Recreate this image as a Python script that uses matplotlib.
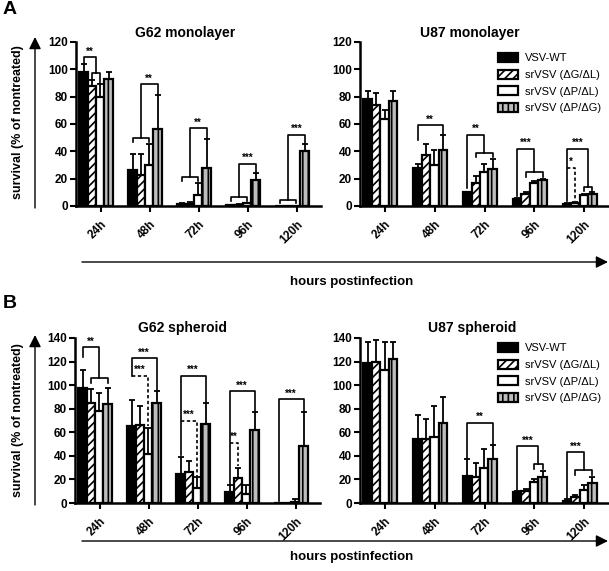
import numpy as np
import matplotlib.pyplot as plt
from matplotlib.patches import FancyArrowPatch

plt.rcParams['font.family'] = ['Liberation Sans', 'DejaVu Sans']
plt.rcParams['hatch.linewidth'] = 1.2

W, H = 609, 571

hours = ['24h', '48h', '72h', '96h', '120h']
viruses = ['VSV-WT', 'srVSV (ΔG/ΔL)', 'srVSV (ΔP/ΔL)', 'srVSV (ΔP/ΔG)']

# rows = viruses, columns = hours
g62_mono_mean = [[98, 26, 1.5, 0.5, 0],
                 [88, 23, 1.5, 1, 0],
                 [80, 30, 8, 2, 0],
                 [93, 56, 28, 19, 40]]
g62_mono_sd = [[6, 12, 0.5, 0, 0],
               [4, 15, 1.5, 0.3, 0],
               [9, 15.5, 9, 0.5, 0],
               [5, 25, 21, 5.5, 5]]

u87_mono_mean = [[78, 28, 10, 5, 1.5],
                 [74, 37, 17, 9, 2.5],
                 [64, 30, 25, 17, 8],
                 [77, 41, 27, 19, 9]]
u87_mono_sd = [[6, 3, 0.5, 0.5, 0.5],
               [9, 8, 5, 1, 0.5],
               [6, 11, 6, 1, 1],
               [7, 11, 7.5, 1, 1]]

g62_sph_mean = [[98, 65, 25, 9, 0],
                [85, 66, 26, 21, 0],
                [78, 42, 13, 8, 1],
                [84, 85, 67, 62, 48]]
g62_sph_sd = [[15, 22, 14, 6, 0],
              [12, 16, 10, 9, 0],
              [15, 22, 9, 7, 2],
              [14, 10, 18, 15, 29]]

u87_sph_mean = [[119, 54, 23, 9, 2],
                [120, 54, 22, 10, 5],
                [113, 56, 30, 18, 11],
                [122, 68, 37, 22, 17]]
u87_sph_sd = [[18, 21, 14, 1, 1],
              [18, 17, 12, 2, 2],
              [24, 26, 16, 2, 4],
              [15, 22, 12, 5, 5]]

# significance brackets: (group, bar from, bar to, top, left end, right end, label, dashed)
g62_mono_sig = [(0, 1, 2, 97, 93, 90, '', False), (0, 0, 1.5, 109, 105, 97, '**', False),
                (1, 0, 2, 50, 47, 47, '', False), (1, 1, 3, 89, 50, 82, '**', False),
                (2, 0, 2, 21, 18, 18, '', False), (2, 1, 3, 57, 21, 50, '**', False),
                (3, 0, 2, 6.5, 4, 4, '', False), (3, 1, 3, 31, 6.5, 25, '***', False),
                (4, 0, 2, 4.5, 2, 2, '', False), (4, 1, 3, 52, 4.5, 46, '***', False)]
u87_mono_sig = [(1, 0, 3, 59, 48, 53, '**', False),
                (2, 1, 3, 39, 36, 36, '', False), (2, 0, 2, 52, 13, 39, '**', False),
                (3, 1, 3, 25, 21, 21, '', False), (3, 0, 2, 42, 7, 25, '***', False),
                (4, 2, 3, 14, 11, 11, '', False), (4, 0, 2.5, 42, 4, 14, '***', False),
                (4, 0, 1, 28, 28, 4, '*', True)]
g62_sph_sig = [(0, 1, 3, 106, 102, 102, '', False), (0, 0, 2, 132, 124, 106, '**', False),
               (1, 0, 3, 123, 108, 96, '***', False), (1, 0, 2, 108, 108, 65, '***', True),
               (2, 0, 3, 108, 41, 86, '***', False), (2, 0, 2, 70, 70, 23, '***', True),
               (3, 0, 3, 95, 16, 78, '***', False), (3, 0, 1, 51, 51, 31, '**', True),
               (4, 0, 3, 88, 2, 78, '***', False)]
u87_sph_sig = [(2, 0, 3, 68, 38, 50, '**', False),
               (3, 2, 3, 33, 29, 29, '', False), (3, 0, 2.5, 48, 11, 33, '***', False),
               (4, 1, 3, 28, 24, 24, '', False), (4, 0, 2, 43, 4, 28, '***', False)]

bar_w = 0.17
shift = -0.09
bar_styles = [dict(facecolor='black'),
              dict(facecolor='white', hatch='////'),
              dict(facecolor='white'),
              dict(facecolor='#bdbdbd', hatch='|||')]

fig = plt.figure(figsize=(W / 100, H / 100), dpi=100)


def fx(x):
    return x / W


def fy(y):
    return 1 - y / H


def draw_panel(left, right, top, bottom, mean, sd, ymax, title, title_xy, sig, legend_xy=None):
    ax = fig.add_axes([fx(left), fy(bottom), (right - left) / W, (bottom - top) / H])
    x = np.arange(len(hours))
    for i, name in enumerate(viruses):
        xs = x + shift + (i - 1.5) * bar_w
        ax.bar(xs, mean[i], bar_w, label=name, edgecolor='black', linewidth=1.6,
               zorder=2, **bar_styles[i])
        ax.errorbar(xs, mean[i], yerr=[np.zeros(len(hours)), sd[i]], fmt='none',
                    ecolor='black', elinewidth=1.3, capsize=2, capthick=1.3, zorder=3)

    for g, b1, b2, y, y1, y2, txt, dashed in sig:
        xa = g + shift + (b1 - 1.5) * bar_w
        xb = g + shift + (b2 - 1.5) * bar_w
        ls = (0, (2, 1.5)) if dashed else '-'
        ax.plot([xa, xa, xb, xb], [y1, y, y, y2], color='black', lw=1.2, ls=ls,
                clip_on=False, zorder=4)
        if txt:
            ax.text((xa + xb) / 2, y + ymax * 0.004, txt, ha='center', va='bottom',
                    fontsize=7, fontweight='bold')

    ax.set_xlim(-0.5, len(hours) - 0.5)
    ax.set_ylim(0, ymax)
    ax.set_yticks(np.arange(0, ymax + 1, 20))
    ax.set_xticks(x)
    ax.set_xticklabels(hours, rotation=45, ha='right', rotation_mode='anchor')
    for lab in ax.get_xticklabels() + ax.get_yticklabels():
        lab.set_fontweight('bold')
        lab.set_fontsize(8.5)
    ax.tick_params(width=1.5, length=4, pad=2)
    ax.tick_params(axis='x', pad=5)
    for s in ['top', 'right']:
        ax.spines[s].set_visible(False)
    for s in ['left', 'bottom']:
        ax.spines[s].set_linewidth(1.8)
    fig.text(fx(title_xy[0]), fy(title_xy[1]), title, ha='center', va='center',
             fontsize=10, fontweight='bold')
    if legend_xy is not None:
        ax.legend(loc='upper left', bbox_to_anchor=(fx(legend_xy[0]), fy(legend_xy[1])),
                  bbox_transform=fig.transFigure, frameon=False, fontsize=8,
                  handlelength=1.8, handleheight=0.9, handletextpad=0.6,
                  labelspacing=0.55, borderpad=0, borderaxespad=0)
    return ax


draw_panel(76, 321, 42, 206, g62_mono_mean, g62_mono_sd, 120, 'G62 monolayer', (185, 33), g62_mono_sig)
draw_panel(360, 609, 42, 206, u87_mono_mean, u87_mono_sd, 120, 'U87 monolayer', (470, 33), u87_mono_sig,
           legend_xy=(498, 53))
draw_panel(75, 320, 338, 503, g62_sph_mean, g62_sph_sd, 140, 'G62 spheroid', (183, 328), g62_sph_sig)
draw_panel(360, 609, 338, 503, u87_sph_mean, u87_sph_sd, 140, 'U87 spheroid', (472, 328), u87_sph_sig,
           legend_xy=(498, 343))


def arrow(x0, y0, x1, y1):
    fig.add_artist(FancyArrowPatch((fx(x0), fy(y0)), (fx(x1), fy(y1)), transform=fig.transFigure,
                                   arrowstyle='-|>,head_length=0.6,head_width=0.3',
                                   mutation_scale=12, lw=1, color='black', shrinkA=0, shrinkB=0))


for top_y, zero_y, arr_y, lab_y, letter, letter_y in [(37, 208, 262, 282, 'A', 10), (335, 505, 541, 557, 'B', 303)]:
    arrow(35, zero_y, 35, top_y)
    arrow(82, arr_y, 608, arr_y)
    fig.text(fx(18), fy((top_y + zero_y) / 2), 'survival (% of nontreated)', rotation=90,
             ha='center', va='center', fontsize=9, fontweight='bold')
    fig.text(fx(352), fy(lab_y), 'hours postinfection', ha='center', va='center',
             fontsize=9.5, fontweight='bold')
    fig.text(fx(3), fy(letter_y), letter, ha='left', va='center', fontsize=14, fontweight='bold')

fig.savefig('out.png', dpi=100)
